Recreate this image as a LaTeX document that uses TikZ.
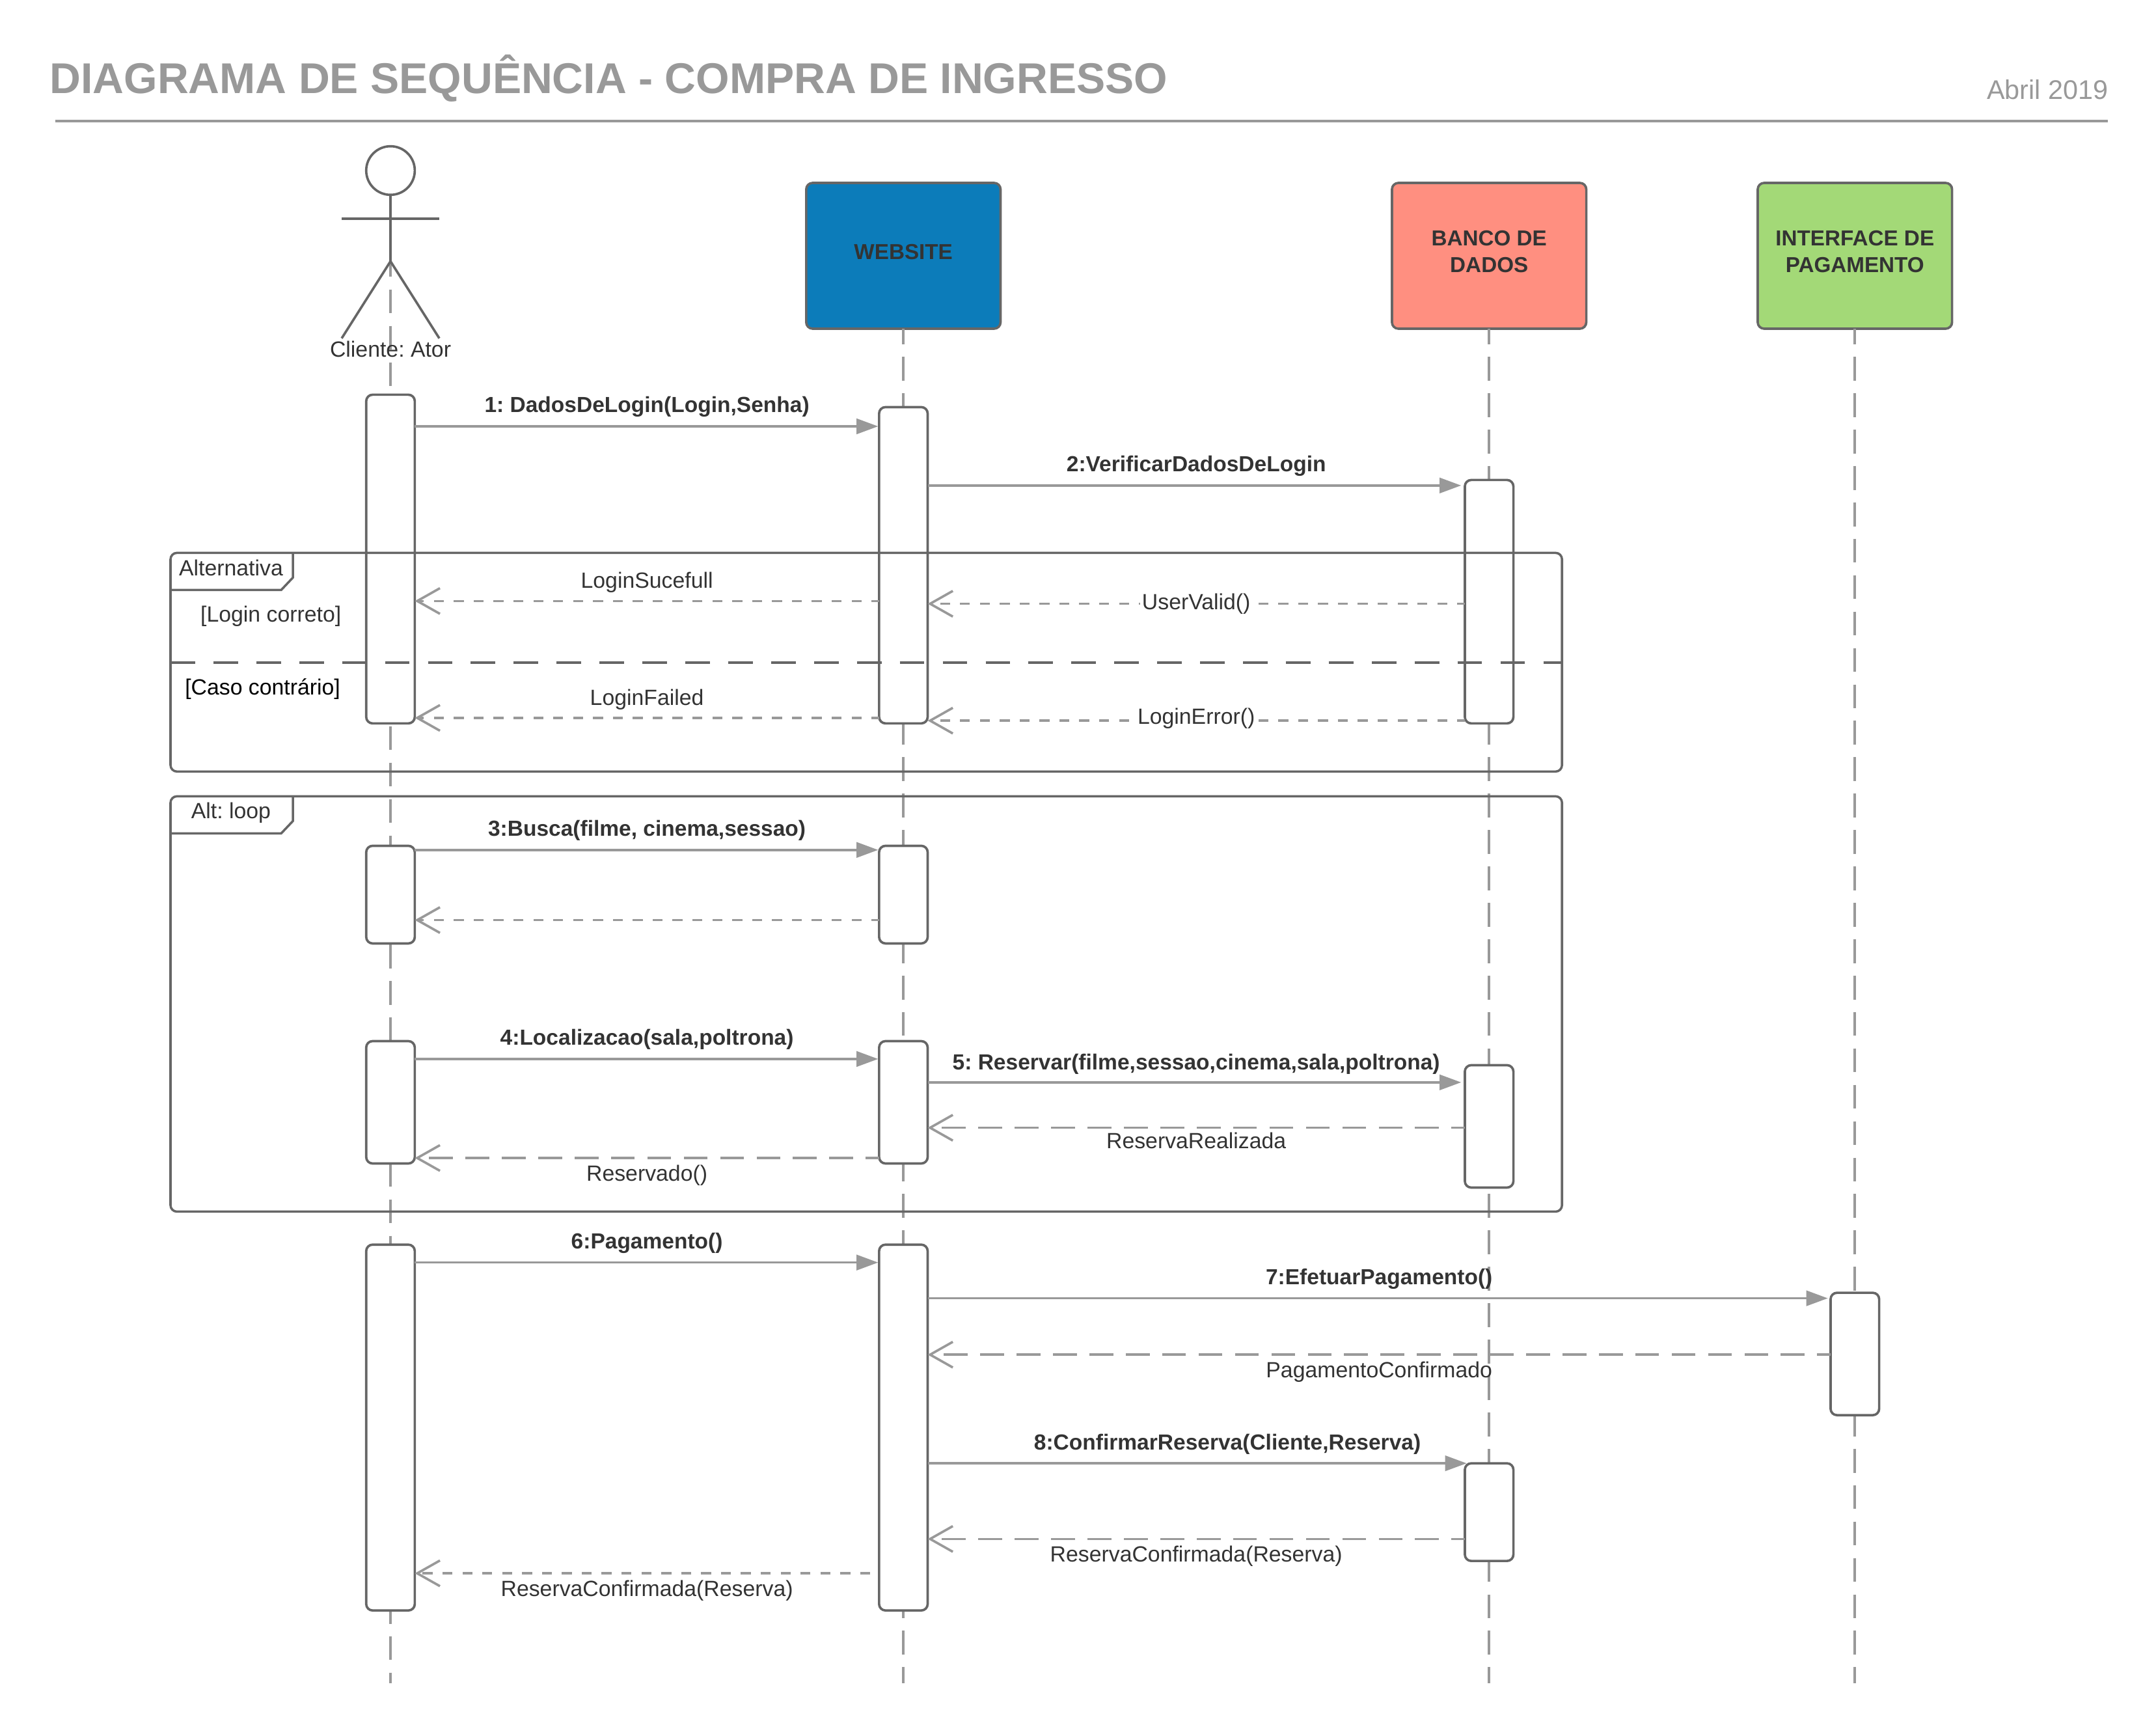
\documentclass[tikz,border=0pt]{standalone}
\usepackage{fontspec}
\setmainfont{Liberation Sans}
\usetikzlibrary{arrows.meta}
\definecolor{linegray}{HTML}{666666}
\definecolor{msggray}{HTML}{999999}
\definecolor{textgray}{HTML}{333333}
\definecolor{sitefill}{HTML}{0C7CBA}
\definecolor{bankfill}{HTML}{FF8F80}
\definecolor{payfill}{HTML}{A3D977}

\begin{document}
\frenchspacing
\begin{tikzpicture}[
 x=0.75pt,y=-0.75pt,
 >={Triangle[length=11.8pt,width=8.3pt]},
 font=\fontsize{12pt}{14pt}\selectfont,
 align=center,
 text=textgray,
 actor/.style={draw=linegray,line width=1.3pt},
 box/.style={draw=linegray,line width=1.3pt,rounded corners=3.5pt,minimum width=106pt,minimum height=79.5pt,outer sep=0pt},
 boxtext/.style={inner sep=0pt,font=\fontsize{11.8pt}{14.3pt}\selectfont\bfseries},
 bar/.style={draw=linegray,fill=white,line width=1.3pt,rounded corners=3.5pt,minimum width=26.5pt,minimum height=#1*0.75pt,inner sep=0pt,outer sep=0pt},
 frame/.style={draw=linegray,line width=1.25pt,rounded corners=3.5pt,minimum width=759pt,minimum height=#1*0.75pt,inner sep=0pt,outer sep=0pt},
 tab/.style={draw=linegray,line width=1.25pt},
 life/.style={draw=msggray,line width=1.3pt,dash pattern=on 13pt off 6.85pt,dash phase=4.5pt},
 call/.style={draw=msggray,line width=1.3pt,->,shorten >=0.5pt},
 back/.style={draw=msggray,line width=1.3pt,dash pattern=on 5.45pt off 5.4pt,dash phase=1.3pt,-{Straight Barb[length=12.4pt,width=14pt]}},
 longback/.style={back,dash pattern=on 13pt off 6.85pt,dash phase=5.7pt},
 method/.style={font=\fontsize{11.9pt}{14pt}\selectfont\bfseries,inner sep=0pt,text height=9pt,text depth=3pt,yshift=10.5pt},
 reply/.style={inner sep=0pt,text height=9pt,text depth=3pt,yshift=10pt},
 inlined/.style={fill=white,inner sep=1pt,text height=9pt,text depth=3pt},
 result/.style={inner sep=0pt,text height=9pt,text depth=3pt,yshift=-9.5pt}
]
\useasboundingbox (0,0) rectangle (1568,1260.4);
% header
\node (title) [anchor=base west,inner sep=0pt,text=msggray,font=\fontsize{23.5pt}{28pt}\selectfont\bfseries] at (36,68) {DIAGRAMA DE SEQUÊNCIA - COMPRA DE INGRESSO};
\node (date) [anchor=base east,inner sep=0pt,text=msggray,font=\fontsize{14.7pt}{18pt}\selectfont] at (1533.5,72) {Abril 2019};
\coordinate (rule-start) at (40,88);
\coordinate (rule-end) at (1533,88);
\draw [msggray,line width=1.4pt] (rule-start) -- (rule-end);

% lifeline heads
\node (client-head) [actor,circle,minimum size=26.5pt,inner sep=0pt,outer sep=0pt] at (284,124) {};
\coordinate (client-hip) at (284,190);
\coordinate (client-end) at (284,1224);
\coordinate (client-arml) at (248.5,159);
\coordinate (client-armr) at (319.5,159);
\coordinate (client-legl) at (248.5,246);
\coordinate (client-legr) at (319.5,246);
\node (website-box) [box,fill=sitefill] at (657,186) {};
\node (bank-box) [box,fill=bankfill] at (1083,186) {};
\node (pay-box) [box,fill=payfill] at (1349,186) {};
\node (website-name) [boxtext] at (657,183) {WEBSITE};
\node (bank-name) [boxtext] at (1083,183) {BANCO DE\\DADOS};
\node (pay-name) [boxtext] at (1349,183) {INTERFACE DE\\PAGAMENTO};
\coordinate (website-end) at (657,1224);
\coordinate (bank-end) at (1083,1224);
\coordinate (pay-end) at (1349,1224);

\draw [life] (client-hip) -- (client-end);
\draw [life] (website-box.south) -- (website-end);
\draw [life] (bank-box.south) -- (bank-end);
\draw [life] (pay-box.south) -- (pay-end);

\draw [actor] (client-head.south) -- (client-hip);
\draw [actor] (client-arml) -- (client-armr);
\draw [actor] (client-legl) -- (client-hip) -- (client-legr);
\node (client-name) [inner sep=0pt] at (284,254) {Cliente: Ator};

% activation bars
\node (client-bar1) [bar=239] at (284,406.5) {};
\node (website-bar1) [bar=230] at (657,411) {};
\node (bank-bar1) [bar=177] at (1083,437.5) {};
\node (client-bar2) [bar=71] at (284,650.5) {};
\node (website-bar2) [bar=71] at (657,650.5) {};
\node (client-bar3) [bar=89] at (284,801.5) {};
\node (website-bar3) [bar=89] at (657,801.5) {};
\node (bank-bar3) [bar=89] at (1083,819) {};
\node (client-bar4) [bar=266] at (284,1038) {};
\node (website-bar4) [bar=266] at (657,1038) {};
\node (pay-bar4) [bar=89] at (1349,984.5) {};
\node (bank-bar4) [bar=71] at (1083,1099.5) {};

% frames
\node (alt-frame) [frame=159] at (630,481.5) {};
\node (loop-frame) [frame=302] at (630,730) {};
\draw [tab] (alt-frame.north west) ++(89,0) -- ++(0,18) -- ++(-8.5,9) -- ++(-80.5,0);
\draw [tab] (loop-frame.north west) ++(89,0) -- ++(0,18) -- ++(-8.5,9) -- ++(-80.5,0);
\draw [draw=linegray,line width=1.4pt,dash pattern=on 13.4pt off 10pt] (alt-frame.west |- 0,482) -- (alt-frame.east |- 0,482);
\node (alt-label) [inner sep=0pt] at (168,413) {Alternativa};
\node (loop-label) [inner sep=0pt] at (168,591) {Alt: loop};
\node (ok-guard) [inner sep=0pt] at (197,448) {[Login correto]};
\node (else-guard) [inner sep=0pt,text=black] at (191,501) {[Caso contrário]};

% messages
\draw [call] (client-bar1.east |- 0,310) -- node [method] {1: DadosDeLogin(Login,Senha)} (website-bar1.west |- 0,310);
\draw [call,shorten >=2pt] (website-bar1.east |- 0,353) -- node [method] {2:VerificarDadosDeLogin} (bank-bar1.west |- 0,353);
\draw [back] (website-bar1.west |- 0,437) -- node [reply] {LoginSucefull} (client-bar1.east |- 0,437);
\draw [back] (bank-bar1.west |- 0,439) -- node [inlined] {UserValid()} (website-bar1.east |- 0,439);
\draw [back] (website-bar1.west |- 0,522) -- node [reply] {LoginFailed} (client-bar1.east |- 0,522);
\draw [back] (bank-bar1.west |- 0,524) -- node [inlined,yshift=1pt] {LoginError()} (website-bar1.east |- 0,524);

\draw [call] (client-bar2.east |- 0,618) -- node [method] {3:Busca(filme, cinema,sessao)} (website-bar2.west |- 0,618);
\draw [back] (website-bar2.west |- 0,669) -- (client-bar2.east |- 0,669);

\draw [call] (client-bar3.east |- 0,770) -- node [method] {4:Localizacao(sala,poltrona)} (website-bar3.west |- 0,770);
\draw [call,shorten >=2pt] (website-bar3.east |- 0,787) -- node [method,yshift=-0.5pt] {5: Reservar(filme,sessao,cinema,sala,poltrona)} (bank-bar3.west |- 0,787);
\draw [longback] (bank-bar3.west |- 0,820) -- node [result,yshift=1pt] {ReservaRealizada} (website-bar3.east |- 0,820);
\draw [longback] (website-bar3.west |- 0,842) -- node [result] {Reservado()} (client-bar3.east |- 0,842);

\draw [call] (client-bar4.east |- 0,918) -- node [method] {6:Pagamento()} (website-bar4.west |- 0,918);
\draw [call,shorten >=1.5pt] (website-bar4.east |- 0,944) -- node [method] {7:EfetuarPagamento()} (pay-bar4.west |- 0,944);
\draw [longback] (pay-bar4.west |- 0,985) -- node [result] {PagamentoConfirmado} (website-bar4.east |- 0,985);
\draw [call,shorten >=-1pt] (website-bar4.east |- 0,1064) -- node [method,xshift=17pt] {8:ConfirmarReserva(Cliente,Reserva)} (bank-bar4.west |- 0,1064);
\draw [longback] (bank-bar4.west |- 0,1119) -- node [result] {ReservaConfirmada(Reserva)} (website-bar4.east |- 0,1119);
\draw [back,dash phase=6pt] (website-bar4.west |- 0,1144) -- node [result] {ReservaConfirmada(Reserva)} (client-bar4.east |- 0,1144);
\end{tikzpicture}
\end{document}
